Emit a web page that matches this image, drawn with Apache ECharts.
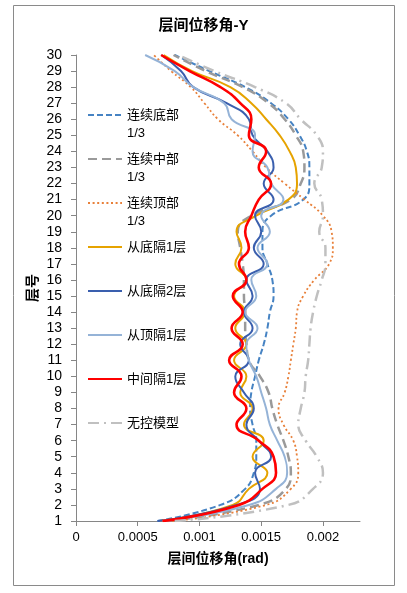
<!DOCTYPE html>
<html>
<head>
<meta charset="utf-8">
<script src="https://cdn.jsdelivr.net/npm/echarts@6/dist/echarts.min.js"></script>
<style>
html,body{margin:0;padding:0;background:#fff;}
#chart{width:407px;height:593px;}
</style>
</head>
<body>
<div id="chart"></div>
<script>
// ---- data ----
const floors = [1,2,3,4,5,6,7,8,9,10,11,12,13,14,15,16,17,18,19,20,21,22,23,24,25,26,27,28,29,30];

const lianxuDibu = [0.00066,0.00117,0.00137,0.00144,0.00146,0.00146,0.00143,0.00141,0.00142,0.00145,0.00148,0.00152,0.00155,0.00157,0.00160,0.00159,0.00155,0.00151,0.00151,0.00158,0.00184,0.00189,0.00189,0.00187,0.00181,0.00172,0.00158,0.00137,0.00108,0.00080];
const lianxuZhongbu = [0.00074,0.00148,0.00170,0.00174,0.00172,0.00168,0.00163,0.00159,0.00156,0.00149,0.00140,0.00138,0.00137,0.00137,0.00136,0.00136,0.00135,0.00133,0.00131,0.00142,0.00174,0.00182,0.00185,0.00184,0.00178,0.00169,0.00156,0.00135,0.00105,0.00079];
const lianxuDingbu = [0.00078,0.00154,0.00174,0.00180,0.00179,0.00176,0.00168,0.00164,0.00169,0.00172,0.00174,0.00176,0.00178,0.00179,0.00184,0.00193,0.00205,0.00208,0.00207,0.00200,0.00185,0.00169,0.00154,0.00143,0.00131,0.00115,0.00104,0.00093,0.00077,0.00063];
const congDiGe1 = [0.00068,0.00127,0.00140,0.00155,0.00143,0.00152,0.00136,0.00143,0.00133,0.00138,0.00128,0.00138,0.00129,0.00137,0.00128,0.00138,0.00129,0.00134,0.00130,0.00146,0.00172,0.00179,0.00178,0.00173,0.00165,0.00154,0.00142,0.00125,0.00094,0.00071];
const congDiGe2 = [0.00066,0.00130,0.00149,0.00145,0.00158,0.00148,0.00138,0.00144,0.00136,0.00129,0.00140,0.00133,0.00143,0.00136,0.00143,0.00138,0.00152,0.00144,0.00150,0.00145,0.00160,0.00152,0.00160,0.00155,0.00143,0.00140,0.00122,0.00095,0.00085,0.00069];
const congDingGe1 = [0.00070,0.00140,0.00162,0.00171,0.00169,0.00163,0.00157,0.00154,0.00150,0.00146,0.00140,0.00138,0.00147,0.00137,0.00146,0.00142,0.00155,0.00147,0.00157,0.00150,0.00168,0.00158,0.00155,0.00143,0.00145,0.00126,0.00120,0.00095,0.00080,0.00056];
const zhongjianGe1 = [0.00070,0.00132,0.00151,0.00162,0.00160,0.00148,0.00130,0.00138,0.00128,0.00134,0.00124,0.00135,0.00126,0.00135,0.00127,0.00138,0.00132,0.00140,0.00137,0.00142,0.00148,0.00158,0.00148,0.00154,0.00140,0.00142,0.00133,0.00117,0.00092,0.00069];
const wukongModel = [0.00080,0.00172,0.00192,0.00200,0.00195,0.00186,0.00180,0.00182,0.00185,0.00186,0.00188,0.00189,0.00190,0.00192,0.00195,0.00199,0.00202,0.00202,0.00197,0.00200,0.00199,0.00193,0.00199,0.00200,0.00195,0.00182,0.00170,0.00145,0.00112,0.00083];

const xTickValues = [0, 0.0005, 0.001, 0.0015, 0.002];
const xTickLabels = ['0', '0.0005', '0.001', '0.0015', '0.002'];

const seriesNames = ['连续底部1/3','连续中部1/3','连续顶部1/3','从底隔1层','从底隔2层','从顶隔1层','中间隔1层','无控模型'];
const seriesValues = [lianxuDibu, lianxuZhongbu, lianxuDingbu, congDiGe1, congDiGe2, congDingGe1, zhongjianGe1, wukongModel];

// ---- styles ----
const styles = [
  {color:'#4683c3', width:2,   type:[6,3]},
  {color:'#9a9a9a', width:2.5, type:[9,5]},
  {color:'#e8803a', width:1.8, type:[2,2.6]},
  {color:'#e6a300', width:2,   type:'solid'},
  {color:'#3a5fae', width:2,   type:'solid'},
  {color:'#95b3d7', width:2,   type:'solid'},
  {color:'#ff0000', width:2.6, type:'solid'},
  {color:'#c0c0c0', width:2.5, type:[11,5,2,5]}
];

const FONT = '"Liberation Sans", "Noto Sans CJK SC", sans-serif';

const chart = echarts.init(document.getElementById('chart'), null, {renderer:'canvas'});

const series = seriesNames.map((name, k) => ({
  type: 'line',
  name: name,
  data: floors.map((f, i) => [seriesValues[k][i], f]),
  smooth: 0.5,
  symbol: 'none',
  showSymbol: false,
  clip: true,
  lineStyle: {color: styles[k].color, width: styles[k].width, type: styles[k].type},
  itemStyle: {color: styles[k].color},
  emphasis: {disabled: true}
}));

chart.setOption({
  animation: false,
  backgroundColor: '#ffffff',
  graphic: [{
    type: 'rect', silent: true, z: -10,
    shape: {x: 13.5, y: 5.5, width: 381, height: 580},
    style: {fill: 'none', stroke: '#8a8a8a', lineWidth: 1}
  }],
  title: {
    text: '层间位移角-Y', left: 'center', top: 18, padding: 0,
    textStyle: {fontFamily: FONT, fontSize: 15, fontWeight: 'bold', color: '#000'}
  },
  grid: {left: 76, right: 47, top: 55, bottom: 72, containLabel: false, outerBoundsMode: 'none'},
  legend: {
    orient: 'vertical', left: 87, top: 88, padding: 0,
    itemGap: -10, itemWidth: 34, itemHeight: 14,
    data: seriesNames,
    selectedMode: false,
    itemStyle: {opacity: 0, borderWidth: 0},
    textStyle: {fontFamily: FONT, fontSize: 13, lineHeight: 18, color: '#000'},
    formatter: function (name) {
      if (name.endsWith('1/3')) return ' \n' + name.slice(0, -3) + '\n1/3';
      return ' \n' + name + '\n ';
    }
  },
  xAxis: {
    type: 'value', min: 0, max: 0.0023,
    axisLine: {show: true, onZero: false, lineStyle: {color: '#868686', width: 1}},
    axisTick: {show: true, inside: false, length: 5, customValues: xTickValues, lineStyle: {color: '#868686'}},
    axisLabel: {
      show: true, margin: 10, customValues: xTickValues,
      fontFamily: FONT, fontSize: 13, color: '#000',
      formatter: function (v) {
        for (let i = 0; i < xTickValues.length; i++) {
          if (Math.abs(v - xTickValues[i]) < 1e-9) return xTickLabels[i];
        }
        return '';
      }
    },
    splitLine: {show: false},
    name: '层间位移角(rad)', nameLocation: 'middle', nameGap: 31, nameMoveOverlap: false,
    nameTextStyle: {fontFamily: FONT, fontSize: 14, fontWeight: 'bold', color: '#000'}
  },
  yAxis: {
    type: 'value', min: 1, max: 30, interval: 1,
    axisLine: {show: true, onZero: false, lineStyle: {color: '#868686', width: 1}},
    axisTick: {show: true, inside: false, length: 5, lineStyle: {color: '#868686'}},
    axisLabel: {show: true, margin: 14, fontFamily: FONT, fontSize: 14, color: '#000'},
    splitLine: {show: false},
    name: '层号', nameLocation: 'middle', nameGap: 36, nameRotate: 90, nameMoveOverlap: false,
    nameTextStyle: {fontFamily: FONT, fontSize: 14, fontWeight: 'bold', color: '#000'}
  },
  series: series
});
</script>
</body>
</html>
